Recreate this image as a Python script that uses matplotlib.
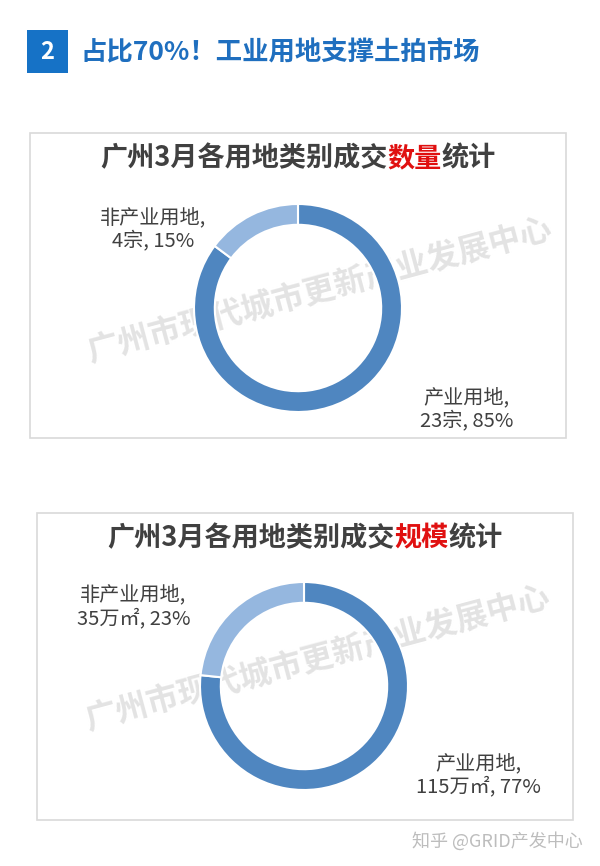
import matplotlib
matplotlib.use("Agg")
import matplotlib.pyplot as plt
from matplotlib.patches import Rectangle

plt.rcParams['font.family'] = ['Noto Sans CJK SC', 'DejaVu Sans']

# chart data
categories = ['产业用地', '非产业用地']
count_values = [23, 4]
area_values = [115, 35]
count_unit = '宗'
area_unit = '万㎡'
colors = ['#4f86c0', '#95b7df']

header_no = '2'
header_title = '占比70%！工业用地支撑土拍市场'
title_parts_1 = ['广州3月各用地类别成交', '数量', '统计']
title_parts_2 = ['广州3月各用地类别成交', '规模', '统计']
watermark = '广州市现代城市更新产业发展中心'
footer = '知乎 @GRID产发中心'

W, H = 600, 866
fig = plt.figure(figsize=(W / 100, H / 100), dpi=100)
fig.patch.set_facecolor('white')


def fx(x):
    return x / W


def fy(y):
    return 1 - y / H


# header
fig.patches.append(Rectangle((fx(27), fy(73)), 41 / W, 43 / H, transform=fig.transFigure,
                             facecolor='#1672c6', edgecolor='none'))
fig.text(fx(47.5), fy(52), header_no, color='white', fontsize=17, fontweight='bold',
         ha='center', va='center')
fig.text(fx(80), fy(53), header_title, color='#1f6fbf', fontsize=19, fontweight='bold',
         ha='left', va='center')

renderer = fig.canvas.get_renderer()


def mixed_title(parts, cx, cy):
    cols = ['#404040', '#e01010', '#404040']
    texts = [fig.text(0, fy(cy), p, color=c, fontsize=19.5, fontweight='bold', va='center')
             for p, c in zip(parts, cols)]
    widths = [t.get_window_extent(renderer).width for t in texts]
    x = cx - sum(widths) / 2
    for t, w in zip(texts, widths):
        t.set_x(fx(x))
        x += w


def panel(box, title_parts, title_y, center, radius, values, unit, label_pos, wm_center):
    x0, y0, x1, y1 = box
    fig.patches.append(Rectangle((fx(x0), fy(y1)), (x1 - x0) / W, (y1 - y0) / H,
                                 transform=fig.transFigure, facecolor='none',
                                 edgecolor='#d9d9d9', lw=1.2))
    mixed_title(title_parts, (x0 + x1) / 2, title_y)

    # watermark sits behind the donut
    fig.text(fx(wm_center[0]), fy(wm_center[1]), watermark, color='#e3e3e3', fontsize=23,
             fontweight='bold', rotation=15, rotation_mode='anchor', ha='center',
             va='center', zorder=-1)

    cx, cy = center
    ax = fig.add_axes([fx(cx - radius), fy(cy + radius), 2 * radius / W, 2 * radius / H])
    ax.pie(values, colors=colors, startangle=90, counterclock=False, radius=1,
           wedgeprops=dict(width=0.2, edgecolor='white', linewidth=1.5))
    ax.set_xlim(-1, 1)
    ax.set_ylim(-1, 1)
    ax.set_aspect('equal')
    total = sum(values)
    for cat, v, (lx, ly) in zip(categories, values, label_pos):
        pct = round(v / total * 100)
        ax.text(lx, ly, f'{cat},\n{v}{unit}, {pct}%', ha='center', va='center',
                fontsize=14.5, color='#404040', linespacing=1.15, clip_on=False)


panel((30, 133, 566, 438), title_parts_1, 158, (298, 308), 104, count_values, count_unit,
      [(1.62, -0.98), (-1.39, 0.75)], (320, 292))
panel((37, 513, 573, 820), title_parts_2, 538, (304, 686), 104, area_values, area_unit,
      [(1.68, -0.86), (-1.64, 0.76)], (318, 660))

fig.text(fx(583), fy(841), footer, color='#bdbdbd', fontsize=13, ha='right', va='center')

fig.savefig('out.png', dpi=100, facecolor='white')
